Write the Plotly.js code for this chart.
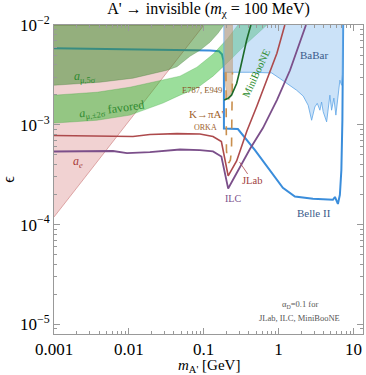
<!DOCTYPE html>
<html>
<head>
<meta charset="utf-8">
<script src="https://cdn.plot.ly/plotly-3.0.1.min.js"></script>
<style>
  html, body { margin: 0; padding: 0; background: #fff; }
  #plot { width: 366px; height: 375px; }
</style>
</head>
<body>
<div id="plot"></div>
<script>
// Values: mass m_A' in GeV, kinetic mixing epsilon
const mMin = 0.001, mMax = 13.4;
const epsMin = 8.0e-6, epsMax = 1e-2;

// a_e exclusion: diagonal boundary, region to the upper left
const aeX = [0.001, 0.1007];
const aeY = [1.19e-4, 1e-2];

// a_mu 5 sigma exclusion: lower boundary, region above
const mu5sX = [0.001, 0.00411, 0.01135, 0.0323, 0.0439, 0.0655, 0.0889, 0.121, 0.155, 0.186];
const mu5sY = [2.49e-3, 2.67e-3, 2.93e-3, 3.52e-3, 3.82e-3, 4.86e-3, 5.58e-3, 6.71e-3, 8.26e-3, 1e-2];

// a_mu +-2 sigma favored band
const bandUpX = [0.001, 0.00375, 0.01035, 0.0285, 0.0481, 0.0811, 0.133, 0.210, 0.286];
const bandUpY = [1.98e-3, 2.12e-3, 2.38e-3, 2.80e-3, 3.07e-3, 3.78e-3, 5.09e-3, 7.36e-3, 1e-2];
const bandLoX = [0.001, 0.00375, 0.01035, 0.0154, 0.0285, 0.0481, 0.0811, 0.133, 0.224, 0.377, 0.698];
const bandLoY = [1.04e-3, 1.11e-3, 1.25e-3, 1.40e-3, 1.65e-3, 1.98e-3, 2.33e-3, 3.07e-3, 4.43e-3, 6.56e-3, 1e-2];

// BaBar exclusion outline
const babarX = [0.186, 0.186, 0.414, 0.807, 1.04, 1.42, 1.74, 2.13, 2.48, 2.76, 3.05, 3.28, 3.56, 3.75, 3.94, 4.38, 4.84, 5.10, 5.47, 5.82, 6.25, 6.58, 6.93, 7.15, 7.28];
const babarY = [1e-2, 3.36e-3, 3.36e-3, 3.31e-3, 2.91e-3, 2.49e-3, 2.22e-3, 1.94e-3, 1.57e-3, 1.11e-3, 1.51e-3, 1.64e-3, 1.40e-3, 1.69e-3, 1.35e-3, 1.07e-3, 1.98e-3, 1.40e-3, 1.85e-3, 1.25e-3, 2.14e-3, 2.80e-3, 2.49e-3, 3.27e-3, 1e-2];

// E787, E949 exclusion outline
const e787X = [0.189, 0.242, 0.242, 0.231, 0.217, 0.204, 0.195, 0.189];
const e787Y = [1e-2, 1e-2, 2.80e-3, 1.98e-3, 1.77e-3, 1.98e-3, 2.49e-3, 3.36e-3];

// K -> pi A' at ORKA (dashed)
const orkaX = [0.198, 0.198, 0.201, 0.207, 0.217, 0.227, 0.235, 0.238, 0.242];
const orkaY = [3.36e-3, 1.40e-3, 5.58e-4, 4.44e-4, 4.14e-4, 4.44e-4, 5.58e-4, 1.40e-3, 3.36e-3];

// MiniBooNE
const mbX = [0.188, 0.212, 0.235, 0.275, 0.304, 0.337, 0.374, 0.414, 0.427];
const mbY = [1.77e-3, 1.84e-3, 1.98e-3, 2.59e-3, 3.52e-3, 5.18e-3, 7.03e-3, 9.27e-3, 1e-2];

// JLab
const jlabX = [0.001, 0.00411, 0.01135, 0.0191, 0.0439, 0.0889, 0.133, 0.172, 0.192, 0.212, 0.275, 0.377, 0.513, 0.698, 0.949, 1.21];
const jlabY = [7.80e-4, 7.71e-4, 7.62e-4, 7.98e-4, 8.16e-4, 8.07e-4, 7.62e-4, 6.79e-4, 4.65e-4, 3.07e-4, 4.34e-4, 8.65e-4, 1.54e-3, 2.80e-3, 5.21e-3, 1e-2];

// ILC
const ilcX = [0.001, 0.00411, 0.00614, 0.00944, 0.0191, 0.0481, 0.0889, 0.133, 0.172, 0.212, 0.304, 0.414, 0.617, 0.949, 1.42, 2.11, 2.32];
const ilcY = [5.40e-4, 5.40e-4, 5.46e-4, 5.21e-4, 5.33e-4, 5.65e-4, 5.58e-4, 5.40e-4, 4.81e-4, 2.30e-4, 3.78e-4, 5.71e-4, 9.27e-4, 1.77e-3, 3.52e-3, 8.26e-3, 1e-2];

// Belle II
const belleX = [0.001, 0.00411, 0.0191, 0.0481, 0.121, 0.160, 0.175, 0.183, 0.186, 0.186, 0.286, 0.483, 0.766, 1.14, 1.65, 2.87, 5.31, 5.65, 6.19, 6.58, 6.89, 7.11, 7.21, 7.28];
const belleY = [5.85e-3, 5.78e-3, 5.69e-3, 5.65e-3, 5.54e-3, 5.46e-3, 5.09e-3, 4.43e-3, 3.52e-3, 9.16e-4, 9.06e-4, 5.58e-4, 3.44e-4, 2.33e-4, 1.91e-4, 1.81e-4, 1.77e-4, 1.89e-4, 1.61e-4, 1.98e-4, 3.52e-4, 1.11e-3, 4.43e-3, 1e-2];

// ticks
const xTickVals = [0.001, 0.01, 0.1, 1, 10];
const xTickText = ["0.001", "0.01", "0.1", "1", "10"];
const yTickVals = [1e-5, 1e-4, 1e-3, 1e-2];
const yTickText = ["10<sup>\u22125</sup>", "10<sup>\u22124</sup>", "10<sup>\u22123</sup>", "10<sup>\u22122</sup>"];

const serif = '"Liberation Serif", "DejaVu Serif", serif';
const L = Math.log10;

function area(x, y, fillcolor, linecolor, width) {
    return {x: x, y: y, type: 'scatter', mode: 'lines', fill: 'toself',
            fillcolor: fillcolor, line: {color: linecolor, width: width},
            hoverinfo: 'skip', showlegend: false};
}
function curve(x, y, color, width, dash) {
    return {x: x, y: y, type: 'scatter', mode: 'lines',
            line: {color: color, width: width, dash: dash || 'solid'},
            hoverinfo: 'skip', showlegend: false};
}

let traces = [];
// a_e (drawn first, everything else overlays it)
traces.push(area(aeX.concat([mMin]), aeY.concat([epsMax]),
                 'rgba(215,130,130,0.36)', 'rgba(200,110,110,0.7)', 0.8));
// Belle II sits under the a_mu shading
traces.push(curve(belleX, belleY, '#3a8ddb', 2));
// a_mu 5 sigma
traces.push(area(mu5sX.concat([mMin]), mu5sY.concat([epsMax]),
                 'rgba(55,140,40,0.5)', 'rgba(60,120,50,0.5)', 0.6));
// a_mu 2 sigma band
traces.push(area(bandUpX.concat(bandLoX.slice().reverse()),
                 bandUpY.concat(bandLoY.slice().reverse()),
                 'rgba(45,185,45,0.48)', 'rgba(50,160,50,0.5)', 0.6));
// BaBar
traces.push(area(babarX, babarY, 'rgba(140,190,240,0.45)', '#5ea4e6', 0.8));
// E787 / E949
traces.push(area(e787X, e787Y, 'rgba(195,145,95,0.5)', 'rgba(180,130,80,0.6)', 0.5));
// projections
traces.push(curve(orkaX, orkaY, '#c98f4e', 1.6, 'dash'));
traces.push(curve(mbX, mbY, '#1d6b2a', 1.6));
traces.push(curve(jlabX, jlabY, '#ad4a4c', 1.6));
traces.push(curve(ilcX, ilcY, '#7b4f8a', 1.8));

function label(text, m, eps, color, size, angle) {
    return {x: L(m), y: L(eps), xref: 'x', yref: 'y', text: text, showarrow: false,
            font: {family: serif, size: size, color: color}, textangle: angle || 0};
}

let annotations = [
    label('<i>a</i><sub>\u03bc,5\u03c3</sub>', 0.0026, 3.0e-3, '#2f8a2f', 12),
    label('<i>a</i><sub>\u03bc,\u00b12\u03c3</sub> favored', 0.0060, 1.40e-3, '#2f8a2f', 12, -8),
    label('<i>a<sub>e</sub></i>', 0.0021, 4.24e-4, '#a83a3a', 12),
    label('E787, E949', 0.0946, 2.22e-3, '#8b5a2b', 8.5),
    label('K\u2192\u03c0A\'', 0.107, 1.28e-3, '#a0622d', 11),
    label('ORKA', 0.104, 9.48e-4, '#a0622d', 8),
    label('ILC', 0.245, 1.81e-4, '#7b4f8a', 10),
    label('Belle II', 2.96, 1.31e-4, '#3a5a8a', 11),
    label('BaBar', 2.96, 4.98e-3, '#3a5a8a', 11),
    label('MiniBooNE', 0.498, 3.29e-3, '#2a8a2a', 10.5, -65),
    label('\u03b1<sub>D</sub>=0.1 for', 1.92, 1.57e-5, '#555', 8.5),
    label('JLab, ILC, MiniBooNE', 1.92, 1.17e-5, '#555', 8.5),
    {x: L(0.300), y: L(4.24e-4), xref: 'x', yref: 'y', ax: 13, ay: 19,
     text: 'JLab', showarrow: true, arrowhead: 0, arrowwidth: 0.8, arrowcolor: '#ad4a4c',
     font: {family: serif, size: 10.5, color: '#a04040'}},
    // x axis title, placed below the tick labels
    {x: 0.5, y: -0.104, xref: 'paper', yref: 'paper', yanchor: 'middle', showarrow: false,
     text: '<i>m</i><sub>A\'</sub> [GeV]', font: {family: serif, size: 15, color: '#000'}}
];

const axisStyle = {
    type: 'log', showgrid: false, zeroline: false, automargin: false,
    showline: true, linecolor: '#999', linewidth: 1, mirror: 'allticks',
    ticks: 'inside', ticklen: 6, tickcolor: '#999', tickwidth: 1,
    minor: {ticks: 'inside', ticklen: 3, tickcolor: '#999', dtick: 'D1', showgrid: false},
    tickfont: {family: serif, size: 17, color: '#000'},
    tickmode: 'array'
};

let layout = {
    width: 366, height: 375,
    margin: {l: 54, r: 3, t: 25, b: 41},
    paper_bgcolor: '#fff', plot_bgcolor: '#fff',
    font: {family: serif},
    title: {text: 'A\' \u2192 invisible (<i>m</i><sub>\u03c7</sub> = 100 MeV)',
            font: {family: serif, size: 16, color: '#000'},
            x: 0.57, xanchor: 'center', y: 0.978, yanchor: 'middle'},
    xaxis: Object.assign({}, axisStyle, {
        range: [L(mMin), L(mMax)], tickvals: xTickVals, ticktext: xTickText
    }),
    yaxis: Object.assign({}, axisStyle, {
        range: [L(epsMin), L(epsMax)], tickvals: yTickVals, ticktext: yTickText,
        title: {text: '\u03f5', font: {family: serif, size: 16, color: '#000'}, standoff: 6}
    }),
    annotations: annotations
};

Plotly.newPlot('plot', traces, layout, {displayModeBar: false, staticPlot: true});
</script>
</body>
</html>
